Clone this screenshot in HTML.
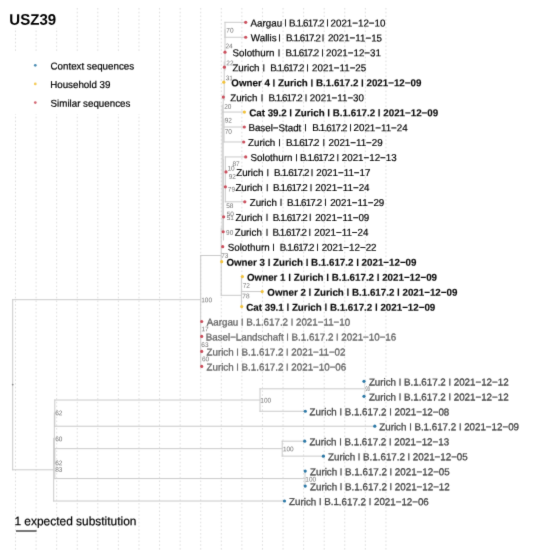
<!DOCTYPE html>
<html><head><meta charset="utf-8"><title>USZ39</title><style>
html,body{margin:0;padding:0;background:#fff;}
svg{display:block;}
text{font-family:"Liberation Sans",Arial,Helvetica,sans-serif;white-space:pre;text-rendering:geometricPrecision;}
.g{stroke:#dadada;stroke-width:0.9;stroke-dasharray:1.6 2.15;}
.t{stroke:#cacaca;stroke-width:1.0;stroke-linecap:square;}
.k{font-size:10.0px;fill:#000;stroke:#000;stroke-width:0.2px;}
.kb{font-size:10.0px;fill:#0a0a0a;font-weight:bold;stroke:#0a0a0a;stroke-width:0.15px;}
.gr{font-size:10.0px;fill:#646464;stroke:#646464;stroke-width:0.3px;}
.cx{font-size:10.0px;fill:#444;stroke:#444;stroke-width:0.3px;}
.bs{font-size:6.65px;fill:#6e6e6e;}
.lg{font-size:10.0px;fill:#000;stroke:#000;stroke-width:0.2px;}
.ti{font-size:15.42px;font-weight:bold;fill:#000;}
.sc{font-size:12.23px;fill:#000;stroke:#000;stroke-width:0.2px;}
</style></head>
<body><svg width="534" height="550" viewBox="0 0 534 550">
<defs><filter id="bl" x="0" y="0" width="1" height="1" color-interpolation-filters="sRGB"><feConvolveMatrix order="3" kernelMatrix="0.01000 0.08000 0.01000 0.08000 0.64000 0.08000 0.01000 0.08000 0.01000" divisor="1" edgeMode="duplicate"/></filter></defs>
<rect width="534" height="550" fill="#fff"/>
<g filter="url(#bl)">
<rect width="534" height="550" fill="#fff"/>
<line x1="15.50" y1="8" x2="15.50" y2="550" class="g"/>
<line x1="36.08" y1="8" x2="36.08" y2="550" class="g"/>
<line x1="56.66" y1="8" x2="56.66" y2="550" class="g"/>
<line x1="77.24" y1="8" x2="77.24" y2="550" class="g"/>
<line x1="97.82" y1="8" x2="97.82" y2="550" class="g"/>
<line x1="118.40" y1="8" x2="118.40" y2="550" class="g"/>
<line x1="138.98" y1="8" x2="138.98" y2="550" class="g"/>
<line x1="159.56" y1="8" x2="159.56" y2="550" class="g"/>
<line x1="180.14" y1="8" x2="180.14" y2="550" class="g"/>
<line x1="200.72" y1="8" x2="200.72" y2="550" class="g"/>
<line x1="221.30" y1="8" x2="221.30" y2="550" class="g"/>
<line x1="241.88" y1="8" x2="241.88" y2="550" class="g"/>
<line x1="262.46" y1="8" x2="262.46" y2="550" class="g"/>
<line x1="283.04" y1="8" x2="283.04" y2="550" class="g"/>
<line x1="303.62" y1="8" x2="303.62" y2="550" class="g"/>
<line x1="324.20" y1="8" x2="324.20" y2="550" class="g"/>
<line x1="344.78" y1="8" x2="344.78" y2="550" class="g"/>
<line x1="365.36" y1="8" x2="365.36" y2="550" class="g"/>
<line x1="385.94" y1="8" x2="385.94" y2="550" class="g"/>
<rect x="0" y="6" width="66" height="22" fill="#fff"/>
<rect x="0" y="52" width="141" height="62" fill="#fff"/>
<line x1="12.70" y1="299.70" x2="12.70" y2="469.80" class="t"/>
<line x1="12.70" y1="299.70" x2="200.70" y2="299.70" class="t"/>
<line x1="12.70" y1="469.80" x2="53.70" y2="469.80" class="t"/>
<line x1="54.80" y1="400.04" x2="54.80" y2="426.22" class="t"/>
<line x1="54.30" y1="413.13" x2="54.30" y2="463.62" class="t"/>
<line x1="54.80" y1="448.66" x2="54.80" y2="478.58" class="t"/>
<line x1="53.70" y1="438.38" x2="53.70" y2="501.02" class="t"/>
<line x1="54.80" y1="400.04" x2="260.00" y2="400.04" class="t"/>
<line x1="54.80" y1="426.22" x2="374.80" y2="426.22" class="t"/>
<line x1="260.00" y1="388.82" x2="260.00" y2="411.26" class="t"/>
<line x1="260.00" y1="388.82" x2="365.50" y2="388.82" class="t"/>
<line x1="260.00" y1="411.26" x2="305.30" y2="411.26" class="t"/>
<line x1="54.80" y1="448.66" x2="282.20" y2="448.66" class="t"/>
<line x1="54.80" y1="478.58" x2="305.00" y2="478.58" class="t"/>
<line x1="282.20" y1="441.18" x2="282.20" y2="456.14" class="t"/>
<line x1="282.20" y1="441.18" x2="304.70" y2="441.18" class="t"/>
<line x1="282.20" y1="456.14" x2="323.40" y2="456.14" class="t"/>
<line x1="305.00" y1="471.10" x2="305.00" y2="486.06" class="t"/>
<line x1="53.70" y1="501.02" x2="284.50" y2="501.02" class="t"/>
<line x1="200.70" y1="255.50" x2="200.70" y2="366.38" class="t"/>
<line x1="200.70" y1="255.50" x2="220.50" y2="255.50" class="t"/>
<line x1="225.00" y1="29.78" x2="225.00" y2="70.00" class="t"/>
<line x1="224.20" y1="62.00" x2="224.20" y2="100.00" class="t"/>
<line x1="223.20" y1="95.00" x2="223.20" y2="160.00" class="t"/>
<line x1="222.20" y1="105.00" x2="222.20" y2="232.00" class="t"/>
<line x1="221.20" y1="228.00" x2="221.20" y2="295.20" class="t"/>
<line x1="223.40" y1="160.00" x2="223.40" y2="240.00" class="t"/>
<line x1="225.00" y1="22.30" x2="225.00" y2="37.26" class="t"/>
<line x1="225.00" y1="22.30" x2="245.70" y2="22.30" class="t"/>
<line x1="225.00" y1="37.26" x2="245.70" y2="37.26" class="t"/>
<line x1="222.20" y1="112.06" x2="244.40" y2="112.06" class="t"/>
<line x1="224.00" y1="119.00" x2="224.00" y2="141.98" class="t"/>
<line x1="224.00" y1="127.02" x2="244.30" y2="127.02" class="t"/>
<line x1="224.00" y1="141.98" x2="243.70" y2="141.98" class="t"/>
<line x1="225.30" y1="156.94" x2="225.30" y2="201.82" class="t"/>
<line x1="225.30" y1="156.94" x2="245.70" y2="156.94" class="t"/>
<line x1="225.30" y1="201.82" x2="244.80" y2="201.82" class="t"/>
<line x1="221.20" y1="295.32" x2="241.40" y2="295.32" class="t"/>
<line x1="241.40" y1="276.62" x2="241.40" y2="306.54" class="t"/>
<line x1="241.40" y1="291.58" x2="262.20" y2="291.58" class="t"/>
<line x1="241.40" y1="276.62" x2="242.40" y2="276.62" class="t"/>
<line x1="364.6" y1="381.34" x2="364.6" y2="396.30" stroke="#e2e2e2" stroke-width="1"/>
<text transform="translate(365.6,390.6) scale(0.6,1)" class="bs">99</text>
<circle cx="12.7" cy="384.6" r="0.9" fill="#888"/>
<circle cx="245.70" cy="22.30" r="1.6" fill="#cb4e5c"/>
<circle cx="245.70" cy="37.26" r="1.6" fill="#cb4e5c"/>
<circle cx="225.00" cy="52.22" r="1.6" fill="#cb4e5c"/>
<circle cx="224.40" cy="67.18" r="1.6" fill="#cb4e5c"/>
<circle cx="223.80" cy="82.14" r="1.6" fill="#f2c23a"/>
<circle cx="223.30" cy="97.10" r="1.6" fill="#cb4e5c"/>
<circle cx="244.40" cy="112.06" r="1.6" fill="#f2c23a"/>
<circle cx="244.30" cy="127.02" r="1.6" fill="#cb4e5c"/>
<circle cx="243.70" cy="141.98" r="1.6" fill="#cb4e5c"/>
<circle cx="245.70" cy="156.94" r="1.6" fill="#cb4e5c"/>
<circle cx="226.00" cy="171.90" r="1.6" fill="#cb4e5c"/>
<circle cx="225.40" cy="186.86" r="1.6" fill="#cb4e5c"/>
<circle cx="244.80" cy="201.82" r="1.6" fill="#cb4e5c"/>
<circle cx="223.60" cy="216.78" r="1.6" fill="#cb4e5c"/>
<circle cx="223.20" cy="231.74" r="1.6" fill="#cb4e5c"/>
<circle cx="222.70" cy="246.70" r="1.6" fill="#cb4e5c"/>
<circle cx="221.70" cy="261.66" r="1.6" fill="#f2c23a"/>
<circle cx="242.40" cy="276.62" r="1.6" fill="#f2c23a"/>
<circle cx="262.20" cy="291.58" r="1.6" fill="#f2c23a"/>
<circle cx="241.70" cy="306.54" r="1.6" fill="#f2c23a"/>
<circle cx="201.70" cy="321.50" r="1.6" fill="#cb4e5c"/>
<circle cx="201.70" cy="336.46" r="1.6" fill="#cb4e5c"/>
<circle cx="201.70" cy="351.42" r="1.6" fill="#cb4e5c"/>
<circle cx="201.70" cy="366.38" r="1.6" fill="#cb4e5c"/>
<circle cx="364.00" cy="381.34" r="1.6" fill="#2b78a6"/>
<circle cx="364.00" cy="396.30" r="1.6" fill="#2b78a6"/>
<circle cx="305.30" cy="411.26" r="1.6" fill="#2b78a6"/>
<circle cx="374.80" cy="426.22" r="1.6" fill="#2b78a6"/>
<circle cx="304.70" cy="441.18" r="1.6" fill="#2b78a6"/>
<circle cx="323.40" cy="456.14" r="1.6" fill="#2b78a6"/>
<circle cx="305.20" cy="471.10" r="1.6" fill="#2b78a6"/>
<circle cx="305.20" cy="486.06" r="1.6" fill="#2b78a6"/>
<circle cx="284.50" cy="501.02" r="1.6" fill="#2b78a6"/>
<text transform="translate(250.58,26.40) rotate(0.03) scale(0.9765,1)" class="k">Aargau</text>
<text transform="translate(284.13,24.839) rotate(0.03) scale(0.9765,0.7368)" class="k">|</text>
<text transform="translate(288.90,26.40) rotate(0.03) scale(0.9765,1)" class="k" style="letter-spacing:-0.806px">B.1.617.2</text>
<text transform="translate(326.25,24.839) rotate(0.03) scale(0.9765,0.7368)" class="k">|</text>
<text transform="translate(330.53,26.40) rotate(0.03) scale(0.9765,1)" class="k">2021−12−10</text>
<text transform="translate(250.86,41.36) rotate(0.03) scale(0.9765,1)" class="k">Wallis</text>
<text transform="translate(278.33,39.799) rotate(0.03) scale(0.9765,0.7368)" class="k">|</text>
<text transform="translate(285.90,41.36) rotate(0.03) scale(0.9765,1)" class="k" style="letter-spacing:-0.872px">B.1.617.2</text>
<text transform="translate(321.73,39.799) rotate(0.03) scale(0.9765,0.7368)" class="k">|</text>
<text transform="translate(327.88,41.36) rotate(0.03) scale(0.9765,1)" class="k">2021−11−15</text>
<text transform="translate(232.56,56.32) rotate(0.03) scale(0.9765,1)" class="k">Solothurn</text>
<text transform="translate(277.73,54.759) rotate(0.03) scale(0.9765,0.7368)" class="k">|</text>
<text transform="translate(285.40,56.32) rotate(0.03) scale(0.9765,1)" class="k" style="letter-spacing:-1.026px">B.1.617.2</text>
<text transform="translate(321.23,54.759) rotate(0.03) scale(0.9765,0.7368)" class="k">|</text>
<text transform="translate(326.02,56.32) rotate(0.03) scale(0.9765,1)" class="k">2021−12−31</text>
<text transform="translate(232.39,71.28) rotate(0.03) scale(0.9765,1)" class="k">Zurich</text>
<text transform="translate(262.53,69.719) rotate(0.03) scale(0.9765,0.7368)" class="k">|</text>
<text transform="translate(270.20,71.28) rotate(0.03) scale(0.9765,1)" class="k" style="letter-spacing:-0.975px">B.1.617.2</text>
<text transform="translate(306.33,69.719) rotate(0.03) scale(0.9765,0.7368)" class="k">|</text>
<text transform="translate(312.08,71.28) rotate(0.03) scale(0.9765,1)" class="k">2021−11−25</text>
<text transform="translate(230.19,101.20) rotate(0.03) scale(0.9765,1)" class="k">Zurich</text>
<text transform="translate(260.83,99.639) rotate(0.03) scale(0.9765,0.7368)" class="k">|</text>
<text transform="translate(268.50,101.20) rotate(0.03) scale(0.9765,1)" class="k" style="letter-spacing:-0.975px">B.1.617.2</text>
<text transform="translate(304.73,99.639) rotate(0.03) scale(0.9765,0.7368)" class="k">|</text>
<text transform="translate(309.85,101.20) rotate(0.03) scale(0.9765,1)" class="k">2021−11−30</text>
<text transform="translate(248.40,131.12) rotate(0.03) scale(0.9765,1)" class="k">Basel−Stadt</text>
<text transform="translate(304.33,129.559) rotate(0.03) scale(0.9765,0.7368)" class="k">|</text>
<text transform="translate(312.30,131.12) rotate(0.03) scale(0.9765,1)" class="k" style="letter-spacing:-0.853px">B.1.617.2</text>
<text transform="translate(349.28,129.559) rotate(0.03) scale(0.9765,0.7368)" class="k">|</text>
<text transform="translate(353.56,131.12) rotate(0.03) scale(0.9765,1)" class="k">2021−11−24</text>
<text transform="translate(248.09,146.08) rotate(0.03) scale(0.9765,1)" class="k">Zurich</text>
<text transform="translate(278.23,144.519) rotate(0.03) scale(0.9765,0.7368)" class="k">|</text>
<text transform="translate(285.90,146.08) rotate(0.03) scale(0.9765,1)" class="k" style="letter-spacing:-1.051px">B.1.617.2</text>
<text transform="translate(322.43,144.519) rotate(0.03) scale(0.9765,0.7368)" class="k">|</text>
<text transform="translate(328.54,146.08) rotate(0.03) scale(0.9765,1)" class="k">2021−11−29</text>
<text transform="translate(250.56,161.04) rotate(0.03) scale(0.9765,1)" class="k">Solothurn</text>
<text transform="translate(295.13,159.479) rotate(0.03) scale(0.9765,0.7368)" class="k">|</text>
<text transform="translate(300.00,161.04) rotate(0.03) scale(0.9765,1)" class="k" style="letter-spacing:-0.911px">B.1.617.2</text>
<text transform="translate(336.43,159.479) rotate(0.03) scale(0.9765,0.7368)" class="k">|</text>
<text transform="translate(341.78,161.04) rotate(0.03) scale(0.9765,1)" class="k">2021−12−13</text>
<text transform="translate(236.19,176.00) rotate(0.03) scale(0.9765,1)" class="k">Zurich</text>
<text transform="translate(266.43,174.439) rotate(0.03) scale(0.9765,0.7368)" class="k">|</text>
<text transform="translate(274.10,176.00) rotate(0.03) scale(0.9765,1)" class="k" style="letter-spacing:-0.834px">B.1.617.2</text>
<text transform="translate(310.63,174.439) rotate(0.03) scale(0.9765,0.7368)" class="k">|</text>
<text transform="translate(316.26,176.00) rotate(0.03) scale(0.9765,1)" class="k">2021−11−17</text>
<text transform="translate(235.39,190.96) rotate(0.03) scale(0.9765,1)" class="k">Zurich</text>
<text transform="translate(265.93,189.399) rotate(0.03) scale(0.9765,0.7368)" class="k">|</text>
<text transform="translate(273.10,190.96) rotate(0.03) scale(0.9765,1)" class="k" style="letter-spacing:-0.923px">B.1.617.2</text>
<text transform="translate(309.73,189.399) rotate(0.03) scale(0.9765,0.7368)" class="k">|</text>
<text transform="translate(315.36,190.96) rotate(0.03) scale(0.9765,1)" class="k">2021−11−24</text>
<text transform="translate(249.69,205.92) rotate(0.03) scale(0.9765,1)" class="k">Zurich</text>
<text transform="translate(279.73,204.359) rotate(0.03) scale(0.9765,0.7368)" class="k">|</text>
<text transform="translate(287.10,205.92) rotate(0.03) scale(0.9765,1)" class="k" style="letter-spacing:-0.872px">B.1.617.2</text>
<text transform="translate(324.13,204.359) rotate(0.03) scale(0.9765,0.7368)" class="k">|</text>
<text transform="translate(330.14,205.92) rotate(0.03) scale(0.9765,1)" class="k">2021−11−29</text>
<text transform="translate(235.39,220.88) rotate(0.03) scale(0.9765,1)" class="k">Zurich</text>
<text transform="translate(265.63,219.319) rotate(0.03) scale(0.9765,0.7368)" class="k">|</text>
<text transform="translate(272.70,220.88) rotate(0.03) scale(0.9765,1)" class="k" style="letter-spacing:-0.872px">B.1.617.2</text>
<text transform="translate(308.93,219.319) rotate(0.03) scale(0.9765,0.7368)" class="k">|</text>
<text transform="translate(315.14,220.88) rotate(0.03) scale(0.9765,1)" class="k">2021−11−09</text>
<text transform="translate(234.69,235.84) rotate(0.03) scale(0.9765,1)" class="k">Zurich</text>
<text transform="translate(265.63,234.279) rotate(0.03) scale(0.9765,0.7368)" class="k">|</text>
<text transform="translate(272.40,235.84) rotate(0.03) scale(0.9765,1)" class="k" style="letter-spacing:-0.936px">B.1.617.2</text>
<text transform="translate(308.43,234.279) rotate(0.03) scale(0.9765,0.7368)" class="k">|</text>
<text transform="translate(314.26,235.84) rotate(0.03) scale(0.9765,1)" class="k">2021−11−24</text>
<text transform="translate(227.76,250.80) rotate(0.03) scale(0.9765,1)" class="k">Solothurn</text>
<text transform="translate(272.33,249.239) rotate(0.03) scale(0.9765,0.7368)" class="k">|</text>
<text transform="translate(279.80,250.80) rotate(0.03) scale(0.9765,1)" class="k" style="letter-spacing:-0.911px">B.1.617.2</text>
<text transform="translate(316.13,249.239) rotate(0.03) scale(0.9765,0.7368)" class="k">|</text>
<text transform="translate(321.64,250.80) rotate(0.03) scale(0.9765,1)" class="k">2021−12−22</text>
<text transform="translate(231.30,86.24) rotate(0.03) scale(0.9765,1)" class="kb">Owner 4</text>
<text transform="translate(272.54,84.679) rotate(0.03) scale(0.9765,0.7368)" class="kb">|</text>
<text transform="translate(277.99,86.24) rotate(0.03) scale(0.9765,1)" class="kb">Zurich</text>
<text transform="translate(310.54,84.679) rotate(0.03) scale(0.9765,0.7368)" class="kb">|</text>
<text transform="translate(315.99,86.24) rotate(0.03) scale(0.9765,1)" class="kb">B.1.617.2</text>
<text transform="translate(361.04,84.679) rotate(0.03) scale(0.9765,0.7368)" class="kb">|</text>
<text transform="translate(366.49,86.24) rotate(0.03) scale(0.9765,1)" class="kb">2021−12−09</text>
<text transform="translate(249.20,116.16) rotate(0.03) scale(0.9765,1)" class="kb">Cat 39.2</text>
<text transform="translate(289.37,114.599) rotate(0.03) scale(0.9765,0.7368)" class="kb">|</text>
<text transform="translate(294.81,116.16) rotate(0.03) scale(0.9765,1)" class="kb">Zurich</text>
<text transform="translate(327.36,114.599) rotate(0.03) scale(0.9765,0.7368)" class="kb">|</text>
<text transform="translate(332.81,116.16) rotate(0.03) scale(0.9765,1)" class="kb">B.1.617.2</text>
<text transform="translate(377.87,114.599) rotate(0.03) scale(0.9765,0.7368)" class="kb">|</text>
<text transform="translate(383.31,116.16) rotate(0.03) scale(0.9765,1)" class="kb">2021−12−09</text>
<text transform="translate(226.40,265.76) rotate(0.03) scale(0.9765,1)" class="kb">Owner 3</text>
<text transform="translate(267.64,264.199) rotate(0.03) scale(0.9765,0.7368)" class="kb">|</text>
<text transform="translate(273.09,265.76) rotate(0.03) scale(0.9765,1)" class="kb">Zurich</text>
<text transform="translate(305.64,264.199) rotate(0.03) scale(0.9765,0.7368)" class="kb">|</text>
<text transform="translate(311.09,265.76) rotate(0.03) scale(0.9765,1)" class="kb">B.1.617.2</text>
<text transform="translate(356.14,264.199) rotate(0.03) scale(0.9765,0.7368)" class="kb">|</text>
<text transform="translate(361.59,265.76) rotate(0.03) scale(0.9765,1)" class="kb">2021−12−09</text>
<text transform="translate(247.00,280.72) rotate(0.03) scale(0.9765,1)" class="kb">Owner 1</text>
<text transform="translate(288.24,279.159) rotate(0.03) scale(0.9765,0.7368)" class="kb">|</text>
<text transform="translate(293.69,280.72) rotate(0.03) scale(0.9765,1)" class="kb">Zurich</text>
<text transform="translate(326.24,279.159) rotate(0.03) scale(0.9765,0.7368)" class="kb">|</text>
<text transform="translate(331.69,280.72) rotate(0.03) scale(0.9765,1)" class="kb">B.1.617.2</text>
<text transform="translate(376.74,279.159) rotate(0.03) scale(0.9765,0.7368)" class="kb">|</text>
<text transform="translate(382.19,280.72) rotate(0.03) scale(0.9765,1)" class="kb">2021−12−09</text>
<text transform="translate(267.30,295.68) rotate(0.03) scale(0.9765,1)" class="kb">Owner 2</text>
<text transform="translate(308.54,294.119) rotate(0.03) scale(0.9765,0.7368)" class="kb">|</text>
<text transform="translate(313.99,295.68) rotate(0.03) scale(0.9765,1)" class="kb">Zurich</text>
<text transform="translate(346.54,294.119) rotate(0.03) scale(0.9765,0.7368)" class="kb">|</text>
<text transform="translate(351.99,295.68) rotate(0.03) scale(0.9765,1)" class="kb">B.1.617.2</text>
<text transform="translate(397.04,294.119) rotate(0.03) scale(0.9765,0.7368)" class="kb">|</text>
<text transform="translate(402.49,295.68) rotate(0.03) scale(0.9765,1)" class="kb">2021−12−09</text>
<text transform="translate(246.30,310.64) rotate(0.03) scale(0.9765,1)" class="kb">Cat 39.1</text>
<text transform="translate(286.47,309.079) rotate(0.03) scale(0.9765,0.7368)" class="kb">|</text>
<text transform="translate(291.91,310.64) rotate(0.03) scale(0.9765,1)" class="kb">Zurich</text>
<text transform="translate(324.46,309.079) rotate(0.03) scale(0.9765,0.7368)" class="kb">|</text>
<text transform="translate(329.91,310.64) rotate(0.03) scale(0.9765,1)" class="kb">B.1.617.2</text>
<text transform="translate(374.97,309.079) rotate(0.03) scale(0.9765,0.7368)" class="kb">|</text>
<text transform="translate(380.41,310.64) rotate(0.03) scale(0.9765,1)" class="kb">2021−12−09</text>
<text transform="translate(206.78,325.60) rotate(0.03) scale(0.9765,1)" class="gr">Aargau</text>
<text transform="translate(240.98,324.039) rotate(0.03) scale(0.9765,0.7368)" class="gr">|</text>
<text transform="translate(246.23,325.60) rotate(0.03) scale(0.9765,1)" class="gr">B.1.617.2</text>
<text transform="translate(290.75,324.039) rotate(0.03) scale(0.9765,0.7368)" class="gr">|</text>
<text transform="translate(296.00,325.60) rotate(0.03) scale(0.9765,1)" class="gr">2021−11−10</text>
<text transform="translate(205.70,340.56) rotate(0.03) scale(0.9765,1)" class="gr">Basel−Landschaft</text>
<text transform="translate(286.32,338.999) rotate(0.03) scale(0.9765,0.7368)" class="gr">|</text>
<text transform="translate(291.57,340.56) rotate(0.03) scale(0.9765,1)" class="gr">B.1.617.2</text>
<text transform="translate(336.09,338.999) rotate(0.03) scale(0.9765,0.7368)" class="gr">|</text>
<text transform="translate(341.34,340.56) rotate(0.03) scale(0.9765,1)" class="gr">2021−10−16</text>
<text transform="translate(206.49,355.52) rotate(0.03) scale(0.9765,1)" class="gr">Zurich</text>
<text transform="translate(236.33,353.959) rotate(0.03) scale(0.9765,0.7368)" class="gr">|</text>
<text transform="translate(241.58,355.52) rotate(0.03) scale(0.9765,1)" class="gr">B.1.617.2</text>
<text transform="translate(286.10,353.959) rotate(0.03) scale(0.9765,0.7368)" class="gr">|</text>
<text transform="translate(291.35,355.52) rotate(0.03) scale(0.9765,1)" class="gr">2021−11−02</text>
<text transform="translate(206.49,370.48) rotate(0.03) scale(0.9765,1)" class="gr">Zurich</text>
<text transform="translate(236.33,368.919) rotate(0.03) scale(0.9765,0.7368)" class="gr">|</text>
<text transform="translate(241.58,370.48) rotate(0.03) scale(0.9765,1)" class="gr">B.1.617.2</text>
<text transform="translate(286.10,368.919) rotate(0.03) scale(0.9765,0.7368)" class="gr">|</text>
<text transform="translate(291.35,370.48) rotate(0.03) scale(0.9765,1)" class="gr">2021−10−06</text>
<text transform="translate(368.89,385.44) rotate(0.03) scale(0.9765,1)" class="cx">Zurich</text>
<text transform="translate(398.73,383.879) rotate(0.03) scale(0.9765,0.7368)" class="cx">|</text>
<text transform="translate(403.98,385.44) rotate(0.03) scale(0.9765,1)" class="cx">B.1.617.2</text>
<text transform="translate(448.50,383.879) rotate(0.03) scale(0.9765,0.7368)" class="cx">|</text>
<text transform="translate(453.75,385.44) rotate(0.03) scale(0.9765,1)" class="cx">2021−12−12</text>
<text transform="translate(368.89,400.40) rotate(0.03) scale(0.9765,1)" class="cx">Zurich</text>
<text transform="translate(398.73,398.839) rotate(0.03) scale(0.9765,0.7368)" class="cx">|</text>
<text transform="translate(403.98,400.40) rotate(0.03) scale(0.9765,1)" class="cx">B.1.617.2</text>
<text transform="translate(448.50,398.839) rotate(0.03) scale(0.9765,0.7368)" class="cx">|</text>
<text transform="translate(453.75,400.40) rotate(0.03) scale(0.9765,1)" class="cx">2021−12−12</text>
<text transform="translate(309.59,415.36) rotate(0.03) scale(0.9765,1)" class="cx">Zurich</text>
<text transform="translate(339.43,413.799) rotate(0.03) scale(0.9765,0.7368)" class="cx">|</text>
<text transform="translate(344.68,415.36) rotate(0.03) scale(0.9765,1)" class="cx">B.1.617.2</text>
<text transform="translate(389.20,413.799) rotate(0.03) scale(0.9765,0.7368)" class="cx">|</text>
<text transform="translate(394.45,415.36) rotate(0.03) scale(0.9765,1)" class="cx">2021−12−08</text>
<text transform="translate(379.29,430.32) rotate(0.03) scale(0.9765,1)" class="cx">Zurich</text>
<text transform="translate(409.13,428.759) rotate(0.03) scale(0.9765,0.7368)" class="cx">|</text>
<text transform="translate(414.38,430.32) rotate(0.03) scale(0.9765,1)" class="cx">B.1.617.2</text>
<text transform="translate(458.90,428.759) rotate(0.03) scale(0.9765,0.7368)" class="cx">|</text>
<text transform="translate(464.15,430.32) rotate(0.03) scale(0.9765,1)" class="cx">2021−12−09</text>
<text transform="translate(309.39,445.28) rotate(0.03) scale(0.9765,1)" class="cx">Zurich</text>
<text transform="translate(339.23,443.719) rotate(0.03) scale(0.9765,0.7368)" class="cx">|</text>
<text transform="translate(344.48,445.28) rotate(0.03) scale(0.9765,1)" class="cx">B.1.617.2</text>
<text transform="translate(389.00,443.719) rotate(0.03) scale(0.9765,0.7368)" class="cx">|</text>
<text transform="translate(394.25,445.28) rotate(0.03) scale(0.9765,1)" class="cx">2021−12−13</text>
<text transform="translate(327.99,460.24) rotate(0.03) scale(0.9765,1)" class="cx">Zurich</text>
<text transform="translate(357.83,458.679) rotate(0.03) scale(0.9765,0.7368)" class="cx">|</text>
<text transform="translate(363.08,460.24) rotate(0.03) scale(0.9765,1)" class="cx">B.1.617.2</text>
<text transform="translate(407.60,458.679) rotate(0.03) scale(0.9765,0.7368)" class="cx">|</text>
<text transform="translate(412.85,460.24) rotate(0.03) scale(0.9765,1)" class="cx">2021−12−05</text>
<text transform="translate(309.99,475.20) rotate(0.03) scale(0.9765,1)" class="cx">Zurich</text>
<text transform="translate(339.83,473.639) rotate(0.03) scale(0.9765,0.7368)" class="cx">|</text>
<text transform="translate(345.08,475.20) rotate(0.03) scale(0.9765,1)" class="cx">B.1.617.2</text>
<text transform="translate(389.60,473.639) rotate(0.03) scale(0.9765,0.7368)" class="cx">|</text>
<text transform="translate(394.85,475.20) rotate(0.03) scale(0.9765,1)" class="cx">2021−12−05</text>
<text transform="translate(309.99,490.16) rotate(0.03) scale(0.9765,1)" class="cx">Zurich</text>
<text transform="translate(339.83,488.599) rotate(0.03) scale(0.9765,0.7368)" class="cx">|</text>
<text transform="translate(345.08,490.16) rotate(0.03) scale(0.9765,1)" class="cx">B.1.617.2</text>
<text transform="translate(389.60,488.599) rotate(0.03) scale(0.9765,0.7368)" class="cx">|</text>
<text transform="translate(394.85,490.16) rotate(0.03) scale(0.9765,1)" class="cx">2021−12−12</text>
<text transform="translate(289.09,505.12) rotate(0.03) scale(0.9765,1)" class="cx">Zurich</text>
<text transform="translate(318.93,503.559) rotate(0.03) scale(0.9765,0.7368)" class="cx">|</text>
<text transform="translate(324.18,505.12) rotate(0.03) scale(0.9765,1)" class="cx">B.1.617.2</text>
<text transform="translate(368.70,503.559) rotate(0.03) scale(0.9765,0.7368)" class="cx">|</text>
<text transform="translate(373.95,505.12) rotate(0.03) scale(0.9765,1)" class="cx">2021−12−06</text>
<text transform="translate(226.37,32.49) rotate(0.03) scale(0.9765,1)" class="bs">70</text>
<text transform="translate(225.47,48.29) rotate(0.03) scale(0.9765,1)" class="bs">24</text>
<text transform="translate(226.37,65.19) rotate(0.03) scale(0.9765,1)" class="bs">22</text>
<text transform="translate(225.75,80.19) rotate(0.03) scale(0.9765,1)" class="bs">31</text>
<text transform="translate(224.17,108.79) rotate(0.03) scale(0.9765,1)" class="bs">20</text>
<text transform="translate(224.70,122.59) rotate(0.03) scale(0.9765,1)" class="bs">92</text>
<text transform="translate(224.67,133.69) rotate(0.03) scale(0.9765,1)" class="bs">70</text>
<text transform="translate(232.42,165.99) rotate(0.03) scale(0.9765,1)" class="bs">87</text>
<text transform="translate(227.51,170.49) rotate(0.03) scale(0.9765,1)" class="bs">10</text>
<text transform="translate(228.70,178.79) rotate(0.03) scale(0.9765,1)" class="bs">92</text>
<text transform="translate(227.87,191.49) rotate(0.03) scale(0.9765,1)" class="bs">79</text>
<text transform="translate(226.14,207.99) rotate(0.03) scale(0.9765,1)" class="bs">58</text>
<text transform="translate(226.74,216.29) rotate(0.03) scale(0.9765,1)" class="bs">50</text>
<text transform="translate(226.74,219.99) rotate(0.03) scale(0.9765,1)" class="bs">51</text>
<text transform="translate(226.10,234.79) rotate(0.03) scale(0.9765,1)" class="bs">90</text>
<text transform="translate(221.17,257.69) rotate(0.03) scale(0.9765,1)" class="bs">73</text>
<text transform="translate(242.67,287.69) rotate(0.03) scale(0.9765,1)" class="bs">72</text>
<text transform="translate(242.27,298.19) rotate(0.03) scale(0.9765,1)" class="bs">78</text>
<text transform="translate(201.21,302.29) rotate(0.03) scale(0.9765,1)" class="bs">100</text>
<text transform="translate(201.51,331.29) rotate(0.03) scale(0.9765,1)" class="bs">17</text>
<text transform="translate(201.37,347.09) rotate(0.03) scale(0.9765,1)" class="bs">63</text>
<text transform="translate(201.97,361.29) rotate(0.03) scale(0.9765,1)" class="bs">60</text>
<text transform="translate(260.31,402.39) rotate(0.03) scale(0.9765,1)" class="bs">100</text>
<text transform="translate(282.91,451.29) rotate(0.03) scale(0.9765,1)" class="bs">100</text>
<text transform="translate(305.31,481.39) rotate(0.03) scale(0.9765,1)" class="bs">100</text>
<text transform="translate(55.17,415.19) rotate(0.03) scale(0.9765,1)" class="bs">62</text>
<text transform="translate(55.17,441.29) rotate(0.03) scale(0.9765,1)" class="bs">60</text>
<text transform="translate(55.17,465.29) rotate(0.03) scale(0.9765,1)" class="bs">62</text>
<text transform="translate(55.22,471.79) rotate(0.03) scale(0.9765,1)" class="bs">83</text>
<circle cx="35.3" cy="65.3" r="1.35" fill="#2b78a6" fill-opacity="0.85"/>
<text transform="translate(50.50,69.40) rotate(0.03) scale(0.9765,1)" class="lg">Context sequences</text>
<circle cx="35.3" cy="83.9" r="1.35" fill="#f2c23a" fill-opacity="0.85"/>
<text transform="translate(50.20,88.00) rotate(0.03) scale(0.9765,1)" class="lg">Household 39</text>
<circle cx="35.3" cy="102.6" r="1.35" fill="#cb4e5c" fill-opacity="0.85"/>
<text transform="translate(50.56,106.70) rotate(0.03) scale(0.9765,1)" class="lg">Similar sequences</text>
<text transform="translate(9.30,24.7) rotate(0.03) scale(0.9765,1)" class="ti">USZ39</text>
<text transform="translate(14.39,525.2) rotate(0.03) scale(0.9765,1)" class="sc">1 expected substitution</text>
<line x1="16" y1="531" x2="36.6" y2="531" stroke="#2a2a2a" stroke-width="1.3"/>
</g>
</svg></body></html>
